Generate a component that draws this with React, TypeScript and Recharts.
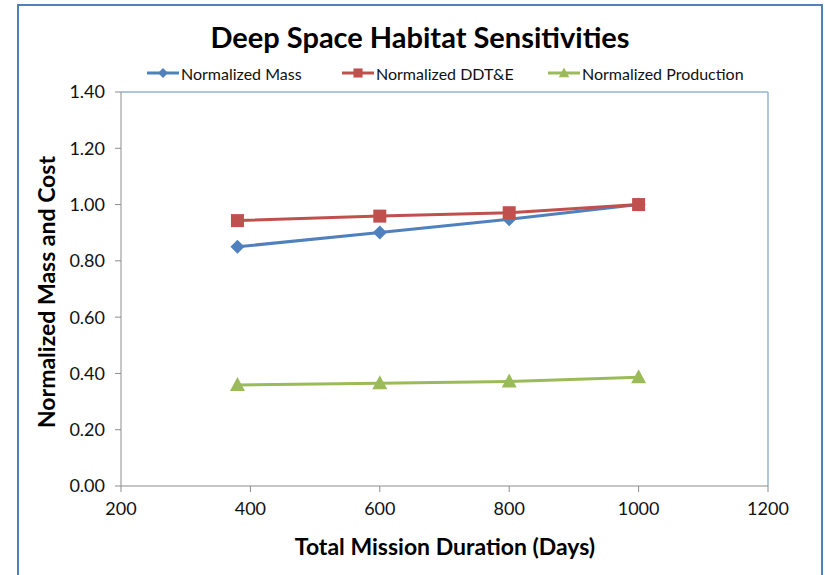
import { LineChart, Line, XAxis, YAxis, ReferenceLine } from 'recharts';

const durations = [380, 600, 800, 1000];
const normalizedMass = [0.85, 0.901, 0.948, 1.0];
const normalizedDdte = [0.943, 0.959, 0.971, 1.0];
const normalizedProduction = [0.359, 0.365, 0.371, 0.386];

const xTicks = [200, 400, 600, 800, 1000, 1200];
const yTicks = [0, 0.2, 0.4, 0.6, 0.8, 1.0, 1.2, 1.4];

const data = durations.map((d, i) => ({
  duration: d,
  mass: normalizedMass[i],
  ddte: normalizedDdte[i],
  production: normalizedProduction[i],
}));

const FONT = 'Lato, "Open Sans", sans-serif';
const BLUE = '#4F81BD';
const RED = '#C0504D';
const GREEN = '#9BBB59';

const Diamond = ({ cx, cy }: any) => (
  <path d={`M${cx},${cy - 7}L${cx + 7},${cy}L${cx},${cy + 7}L${cx - 7},${cy}Z`} fill={BLUE} />
);
const Square = ({ cx, cy }: any) => (
  <rect x={cx - 6.5} y={cy - 6.5} width={13} height={13} fill={RED} />
);
const Triangle = ({ cx, cy }: any) => (
  <path d={`M${cx},${cy - 8}L${cx + 7.5},${cy + 6}L${cx - 7.5},${cy + 6}Z`} fill={GREEN} />
);

const legendItems = [
  { label: 'Normalized Mass', color: BLUE, Marker: Diamond, left: 147 },
  { label: 'Normalized DDT&E', color: RED, Marker: Square, left: 342 },
  { label: 'Normalized Production', color: GREEN, Marker: Triangle, left: 548 },
];

const Legend = () => (
  <div style={{ position: 'absolute', top: 63, left: 0, fontFamily: FONT, fontSize: 16, color: '#111' }}>
    {legendItems.map(({ label, color, Marker, left }) => (
      <div key={label} style={{ position: 'absolute', left, display: 'flex', alignItems: 'center', whiteSpace: 'nowrap' }}>
        <svg width={32} height={20}>
          <line x1={0} y1={10} x2={32} y2={10} stroke={color} strokeWidth={3} />
          <g transform="translate(4.8,3) scale(0.7)">
            <Marker cx={16} cy={10} />
          </g>
        </svg>
        <span style={{ marginLeft: 2 }}>{label}</span>
      </div>
    ))}
  </div>
);

export default function App() {
  return (
    <div style={{ position: 'absolute', left: 0, top: 0, width: 825, height: 575, background: '#fff', overflow: 'hidden' }}>
      <div style={{ position: 'absolute', left: 17, top: 4, width: 802, height: 600, border: `2px solid ${BLUE}` }} />
      <div style={{ position: 'absolute', top: 19, width: 840, textAlign: 'center', fontFamily: FONT, fontWeight: 700, fontSize: 29, color: '#000' }}>
        Deep Space Habitat Sensitivities
      </div>
      <Legend />
      <div style={{ position: 'absolute', left: 46, top: 292, transform: 'translate(-50%,-50%) rotate(-90deg)', whiteSpace: 'nowrap', fontFamily: FONT, fontWeight: 700, fontSize: 23 }}>
        Normalized Mass and Cost
      </div>
      <div style={{ position: 'absolute', left: 445, top: 546, transform: 'translate(-50%,-50%)', whiteSpace: 'nowrap', fontFamily: FONT, fontWeight: 700, fontSize: 23 }}>
        Total Mission Duration (Days)
      </div>
      <div style={{ position: 'absolute', left: 0, top: 0 }}>
        <LineChart width={825} height={575} data={data} margin={{ top: 92, right: 57, left: 61, bottom: 39 }}>
          <XAxis
            dataKey="duration"
            type="number"
            domain={[200, 1200]}
            ticks={xTicks}
            height={50}
            stroke="#8C8C8C"
            tickSize={6}
            tickMargin={10}
            tick={{ fontFamily: FONT, fontSize: 18, fill: '#111' }}
          />
          <YAxis
            type="number"
            domain={[0, 1.4]}
            ticks={yTicks}
            width={60}
            stroke="#8C8C8C"
            tickSize={6}
            tickMargin={10}
            tickFormatter={(v: number) => v.toFixed(2)}
            tick={{ fontFamily: FONT, fontSize: 18, fill: '#111' }}
          />
          <ReferenceLine y={1.4} stroke="#95B3D7" strokeWidth={1.5} />
          <ReferenceLine x={1200} stroke="#95B3D7" strokeWidth={1.5} />
          <Line dataKey="mass" stroke={BLUE} strokeWidth={3} dot={<Diamond />} isAnimationActive={false} />
          <Line dataKey="ddte" stroke={RED} strokeWidth={3} dot={<Square />} isAnimationActive={false} />
          <Line dataKey="production" stroke={GREEN} strokeWidth={3} dot={<Triangle />} isAnimationActive={false} />
        </LineChart>
      </div>
    </div>
  );
}
